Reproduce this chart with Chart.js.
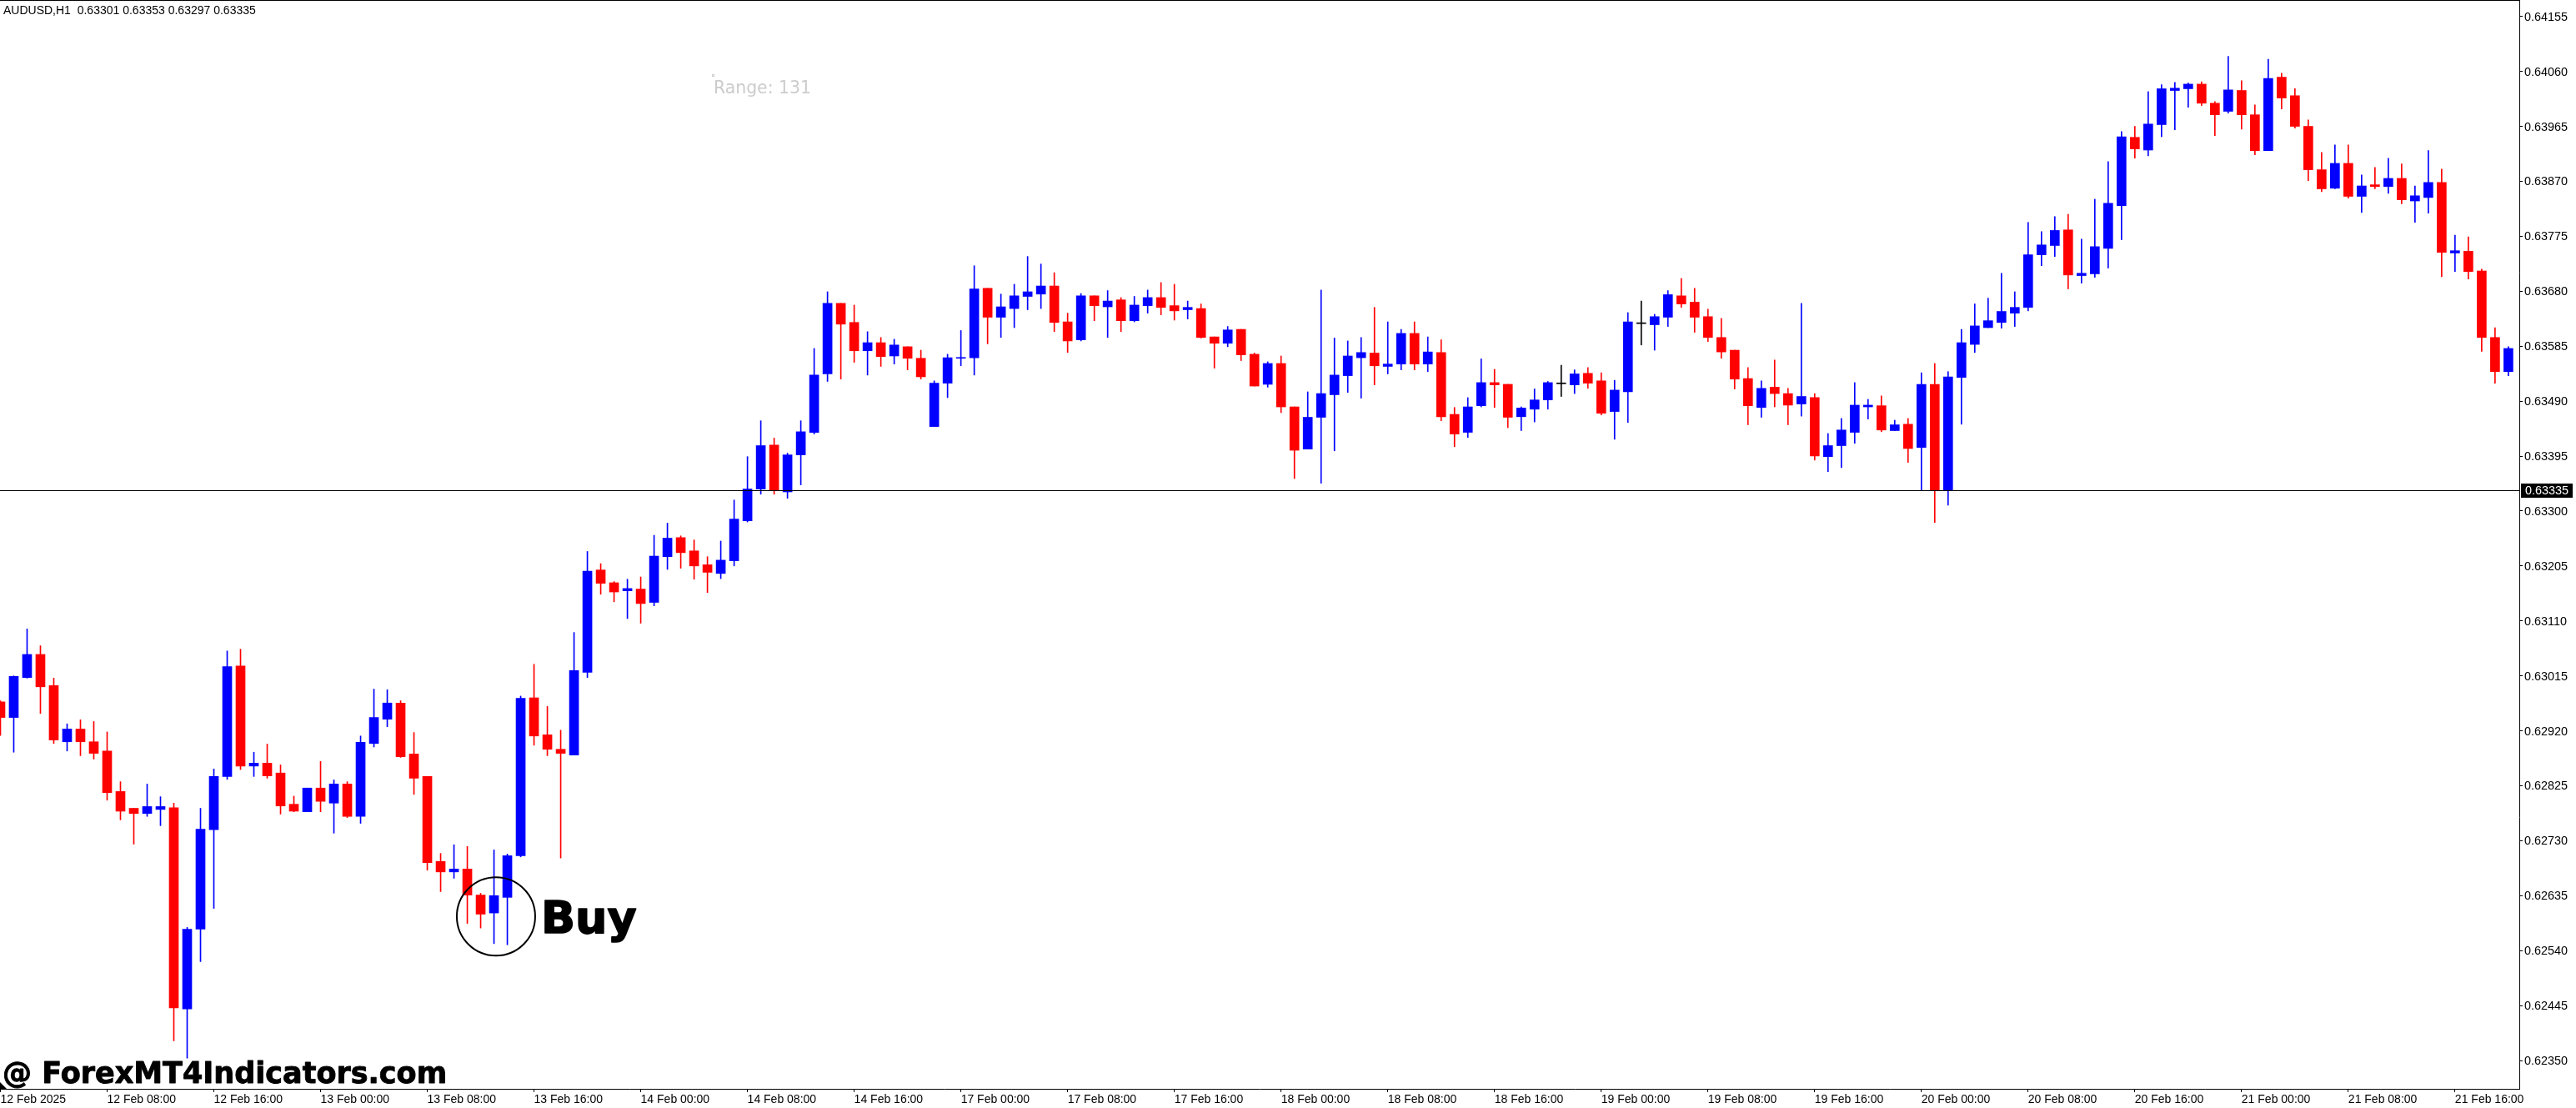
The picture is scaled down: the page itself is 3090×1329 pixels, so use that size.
<!DOCTYPE html>
<html>
<head>
<meta charset="utf-8">
<title>AUDUSD,H1</title>
<style>
html,body{margin:0;padding:0;background:#fff;}
canvas{display:block;}
</style>
<script src="https://cdn.jsdelivr.net/npm/chart.js@4/dist/chart.umd.min.js"></script>
</head>
<body>
<canvas id="c" width="3090" height="1329"></canvas>
<script>
const opens = [0.62970,0.62943,0.63012,0.63052,0.62998,0.62901,0.62923,0.62901,0.62885,0.62815,0.62786,0.62777,0.62784,0.62787,0.62439,0.62577,0.62749,0.62841,0.63032,0.62859,0.62864,0.62847,0.62793,0.62780,0.62821,0.62795,0.62828,0.62772,0.62898,0.62940,0.62968,0.62880,0.62841,0.62694,0.62676,0.62681,0.62636,0.62605,0.62632,0.62704,0.62977,0.62913,0.62888,0.62878,0.63021,0.63198,0.63176,0.63162,0.63165,0.63142,0.63221,0.63254,0.63231,0.63207,0.63192,0.63214,0.63283,0.63338,0.63414,0.63333,0.63397,0.63436,0.63537,0.63659,0.63626,0.63577,0.63591,0.63568,0.63584,0.63564,0.63446,0.63521,0.63564,0.63565,0.63685,0.63635,0.63650,0.63671,0.63675,0.63689,0.63627,0.63596,0.63672,0.63653,0.63665,0.63629,0.63655,0.63669,0.63655,0.63648,0.63650,0.63601,0.63590,0.63614,0.63571,0.63519,0.63555,0.63480,0.63407,0.63462,0.63501,0.63534,0.63565,0.63573,0.63550,0.63554,0.63607,0.63554,0.63574,0.63467,0.63436,0.63482,0.63522,0.63519,0.63463,0.63476,0.63492,0.63520,0.63518,0.63538,0.63525,0.63472,0.63506,0.63624,0.63622,0.63635,0.63672,0.63661,0.63636,0.63600,0.63578,0.63529,0.63479,0.63514,0.63503,0.63485,0.63496,0.63394,0.63413,0.63436,0.63480,0.63482,0.63439,0.63450,0.63410,0.63519,0.63335,0.63531,0.63588,0.63617,0.63626,0.63642,0.63652,0.63743,0.63759,0.63786,0.63707,0.63710,0.63754,0.63828,0.63946,0.63924,0.63968,0.64027,0.64030,0.64038,0.64005,0.63991,0.64027,0.63985,0.63923,0.64050,0.64018,0.63965,0.63890,0.63858,0.63901,0.63844,0.63864,0.63861,0.63875,0.63836,0.63842,0.63868,0.63746,0.63749,0.63715,0.63600,0.63541];
const highs = [0.62972,0.63015,0.63096,0.63067,0.63011,0.62932,0.62939,0.62936,0.62918,0.62832,0.62786,0.62828,0.62806,0.62795,0.62580,0.62786,0.62854,0.63058,0.63061,0.62883,0.62897,0.62861,0.62807,0.62821,0.62867,0.62835,0.62832,0.62911,0.62992,0.62991,0.62972,0.62917,0.62841,0.62708,0.62723,0.62720,0.62639,0.62714,0.62707,0.62980,0.63035,0.62962,0.62921,0.63090,0.63230,0.63209,0.63178,0.63182,0.63186,0.63258,0.63279,0.63257,0.63250,0.63221,0.63248,0.63319,0.63394,0.63456,0.63426,0.63400,0.63456,0.63581,0.63679,0.63659,0.63656,0.63610,0.63600,0.63597,0.63584,0.63578,0.63525,0.63571,0.63612,0.63724,0.63685,0.63675,0.63692,0.63740,0.63727,0.63712,0.63642,0.63676,0.63672,0.63681,0.63669,0.63671,0.63682,0.63695,0.63692,0.63663,0.63658,0.63601,0.63619,0.63614,0.63573,0.63558,0.63568,0.63480,0.63506,0.63682,0.63599,0.63594,0.63600,0.63652,0.63627,0.63614,0.63627,0.63601,0.63596,0.63479,0.63496,0.63563,0.63545,0.63519,0.63480,0.63511,0.63524,0.63552,0.63544,0.63548,0.63539,0.63526,0.63643,0.63663,0.63640,0.63681,0.63702,0.63685,0.63649,0.63633,0.63578,0.63548,0.63525,0.63561,0.63512,0.63659,0.63503,0.63434,0.63460,0.63522,0.63493,0.63499,0.63457,0.63460,0.63539,0.63555,0.63541,0.63614,0.63658,0.63668,0.63711,0.63679,0.63799,0.63783,0.63809,0.63813,0.63770,0.63839,0.63904,0.63956,0.63965,0.64025,0.64037,0.64041,0.64040,0.64042,0.64008,0.64086,0.64044,0.64002,0.64081,0.64057,0.64030,0.63976,0.63920,0.63933,0.63933,0.63881,0.63894,0.63910,0.63900,0.63862,0.63923,0.63891,0.63777,0.63774,0.63718,0.63617,0.63584];
const lows = [0.62912,0.62883,0.63011,0.62950,0.62898,0.62885,0.62877,0.62871,0.62800,0.62766,0.62724,0.62772,0.62756,0.62384,0.62354,0.62521,0.62613,0.62836,0.62853,0.62841,0.62838,0.62776,0.62780,0.62780,0.62780,0.62743,0.62770,0.62760,0.62892,0.62927,0.62874,0.62810,0.62679,0.62642,0.62665,0.62587,0.62579,0.62552,0.62550,0.62702,0.62895,0.62877,0.62700,0.62878,0.63012,0.63156,0.63143,0.63114,0.63106,0.63136,0.63199,0.63201,0.63182,0.63159,0.63183,0.63205,0.63281,0.63329,0.63329,0.63322,0.63345,0.63433,0.63524,0.63528,0.63557,0.63535,0.63550,0.63554,0.63544,0.63528,0.63446,0.63496,0.63551,0.63535,0.63589,0.63600,0.63617,0.63648,0.63650,0.63610,0.63574,0.63594,0.63629,0.63600,0.63610,0.63627,0.63642,0.63639,0.63630,0.63632,0.63599,0.63547,0.63584,0.63560,0.63516,0.63514,0.63470,0.63356,0.63407,0.63348,0.63404,0.63505,0.63495,0.63518,0.63537,0.63544,0.63544,0.63541,0.63456,0.63411,0.63427,0.63480,0.63479,0.63444,0.63439,0.63454,0.63476,0.63498,0.63503,0.63512,0.63466,0.63424,0.63453,0.63587,0.63578,0.63619,0.63652,0.63609,0.63593,0.63564,0.63511,0.63449,0.63462,0.63480,0.63449,0.63464,0.63388,0.63368,0.63375,0.63417,0.63459,0.63437,0.63439,0.63384,0.63335,0.63280,0.63310,0.63450,0.63574,0.63617,0.63616,0.63619,0.63646,0.63724,0.63740,0.63684,0.63694,0.63704,0.63720,0.63769,0.63910,0.63914,0.63947,0.63959,0.63998,0.64001,0.63949,0.63988,0.63960,0.63916,0.63923,0.63995,0.63962,0.63871,0.63852,0.63857,0.63841,0.63816,0.63857,0.63849,0.63831,0.63799,0.63815,0.63705,0.63714,0.63701,0.63576,0.63521,0.63534];
const closes = [0.62943,0.63014,0.63052,0.62996,0.62904,0.62923,0.62901,0.62881,0.62813,0.62781,0.62777,0.62789,0.62789,0.62441,0.62577,0.62750,0.62841,0.63031,0.62859,0.62864,0.62842,0.62790,0.62781,0.62821,0.62798,0.62828,0.62772,0.62900,0.62943,0.62968,0.62875,0.62838,0.62692,0.62676,0.62681,0.62636,0.62603,0.62635,0.62704,0.62976,0.62911,0.62888,0.62881,0.63024,0.63196,0.63175,0.63160,0.63166,0.63140,0.63222,0.63253,0.63228,0.63205,0.63194,0.63215,0.63286,0.63338,0.63413,0.63335,0.63397,0.63437,0.63535,0.63659,0.63623,0.63577,0.63591,0.63567,0.63587,0.63564,0.63532,0.63521,0.63565,0.63565,0.63684,0.63635,0.63653,0.63672,0.63679,0.63689,0.63626,0.63594,0.63672,0.63655,0.63663,0.63629,0.63656,0.63669,0.63652,0.63646,0.63652,0.63600,0.63590,0.63613,0.63570,0.63516,0.63555,0.63480,0.63405,0.63462,0.63503,0.63535,0.63568,0.63574,0.63551,0.63554,0.63607,0.63554,0.63575,0.63463,0.63433,0.63480,0.63522,0.63518,0.63462,0.63478,0.63492,0.63522,0.63520,0.63537,0.63521,0.63469,0.63509,0.63627,0.63624,0.63636,0.63674,0.63658,0.63635,0.63600,0.63575,0.63528,0.63482,0.63512,0.63503,0.63483,0.63498,0.63395,0.63413,0.63440,0.63483,0.63483,0.63440,0.63449,0.63408,0.63519,0.63335,0.63532,0.63591,0.63620,0.63629,0.63645,0.63652,0.63743,0.63760,0.63785,0.63708,0.63711,0.63757,0.63832,0.63947,0.63926,0.63969,0.64030,0.64031,0.64038,0.64005,0.63985,0.64028,0.63985,0.63923,0.64048,0.64014,0.63965,0.63890,0.63857,0.63901,0.63844,0.63862,0.63861,0.63875,0.63838,0.63845,0.63868,0.63747,0.63750,0.63714,0.63600,0.63541,0.63581];
const timeLabels = ['12 Feb 2025','12 Feb 08:00','12 Feb 16:00','13 Feb 00:00','13 Feb 08:00','13 Feb 16:00','14 Feb 00:00','14 Feb 08:00','14 Feb 16:00','17 Feb 00:00','17 Feb 08:00','17 Feb 16:00','18 Feb 00:00','18 Feb 08:00','18 Feb 16:00','19 Feb 00:00','19 Feb 08:00','19 Feb 16:00','20 Feb 00:00','20 Feb 08:00','20 Feb 16:00','21 Feb 00:00','21 Feb 08:00','21 Feb 16:00'];
const priceTicks = [0.62350,0.62445,0.62540,0.62635,0.62730,0.62825,0.62920,0.63015,0.63110,0.63205,0.63300,0.63395,0.63490,0.63585,0.63680,0.63775,0.63870,0.63965,0.64060,0.64155];
const barsPerLabel = 8;
const currentPrice = 0.63335;
const headerText = 'AUDUSD,H1  0.63301 0.63353 0.63297 0.63335';
const rangeText = 'Range: 131';
const buyText = 'Buy';
const siteText = '@ ForexMT4Indicators.com';
const buyBarIndex = 37.15;
const buyPrice = 0.62599;

const UP='#0000ff', DOWN='#ff0000', FLAT='#000000';
const colorOf = i => closes[i]>opens[i] ? UP : (closes[i]<opens[i] ? DOWN : FLAT);
const idx = opens.map((_,i)=>i);
const colors = idx.map(colorOf);

const sansFont = '"Liberation Sans", Arial, sans-serif';
const overlay = {
  id:'overlay',
  beforeDraw(ch){
    const c=ch.ctx; c.save(); c.fillStyle='#fff'; c.fillRect(0,0,ch.width,ch.height); c.restore();
  },
  afterDraw(ch){
    const c=ch.ctx, a=ch.chartArea, xs=ch.scales.x, ys=ch.scales.y;
    c.save();
    // top frame
    c.fillStyle='#000'; c.fillRect(0,0,a.right+1,1);
    // current price line
    const py=Math.floor(ys.getPixelForValue(currentPrice));
    c.fillRect(0,py,a.right,1);
    // price tag
    c.fillRect(3024,py-8,62,17);
    c.fillStyle='#fff'; c.font='14.4px '+sansFont; c.textBaseline='middle'; c.textAlign='left';
    c.fillText(currentPrice.toFixed(5),3029,py+1);
    // header
    c.fillStyle='#000'; c.textBaseline='alphabetic'; c.font='14px '+sansFont;
    c.fillText(headerText,4,17);
    // range
    c.fillStyle='#cccccc'; c.font='20.4px "DejaVu Sans", sans-serif';
    c.fillText(rangeText,856,112);
    c.strokeStyle='#cccccc'; c.lineWidth=1; c.strokeRect(854.5,89.5,2,2);
    // buy circle
    const bx=xs.getPixelForValue(buyBarIndex), by=ys.getPixelForValue(buyPrice);
    c.strokeStyle='#000'; c.lineWidth=2; c.beginPath(); c.arc(bx,by,47,0,Math.PI*2); c.stroke();
    // buy text (thickened like the reference)
    c.fillStyle='#000'; c.strokeStyle='#000'; c.lineJoin='round';
    c.font='bold 54px "DejaVu Sans", sans-serif'; c.lineWidth=1.6;
    c.fillText(buyText,bx+54,by+20); c.strokeText(buyText,bx+54,by+20);
    // site text
    c.font='bold 35px "DejaVu Sans", sans-serif'; c.lineWidth=0.9;
    c.fillText(siteText,3,1299); c.strokeText(siteText,3,1299);
    // corner marker
    c.beginPath(); c.moveTo(0,1298); c.lineTo(8,1306); c.lineTo(0,1306); c.closePath(); c.fill();
    c.restore();
  }
};

new Chart(document.getElementById('c'),{
  type:'bar',
  data:{datasets:[
    {label:'Body',data:idx.map(i=>({x:i,y:[opens[i],closes[i]]})),backgroundColor:colors,barThickness:11,minBarLength:1,grouped:false,order:1,borderWidth:0},
    {label:'Wick',data:idx.map(i=>({x:i,y:[lows[i],highs[i]]})),backgroundColor:colors,barThickness:1,grouped:false,order:2,borderWidth:0}
  ]},
  options:{
    responsive:false,animation:false,devicePixelRatio:1,
    layout:{padding:{top:1,left:0,right:0,bottom:0}},
    plugins:{legend:{display:false},title:{display:false},tooltip:{enabled:false}},
    scales:{
      x:{
        type:'linear',offset:false,min:-0.03,max:188.82,
        grid:{display:true,drawOnChartArea:false,drawTicks:true,tickLength:4,color:'#000',offset:false},
        border:{display:true,color:'#000',width:1},
        ticks:{autoSkip:false,maxRotation:0,minRotation:0,align:'start',padding:1,color:'#000',font:{family:sansFont,size:14},
          callback:v=>timeLabels[Math.round(v/barsPerLabel)]},
        afterBuildTicks(s){s.ticks=timeLabels.map((_,k)=>({value:k*barsPerLabel}));},
        afterFit(s){s.height=23;s.paddingLeft=0;s.paddingRight=0;}
      },
      y:{
        position:'right',type:'linear',min:0.62301,max:0.64182,
        grid:{display:true,drawOnChartArea:false,drawTicks:true,tickLength:4,color:'#000'},
        border:{display:true,color:'#000',width:1},
        ticks:{autoSkip:false,padding:2,labelOffset:1,color:'#000',font:{family:sansFont,size:14.4},callback:v=>v.toFixed(5)},
        afterBuildTicks(s){s.ticks=priceTicks.map(v=>({value:v}));},
        afterFit(s){s.width=68;s.paddingTop=0;s.paddingBottom=0;}
      }
    }
  },
  plugins:[overlay]
});
</script>
</body>
</html>
